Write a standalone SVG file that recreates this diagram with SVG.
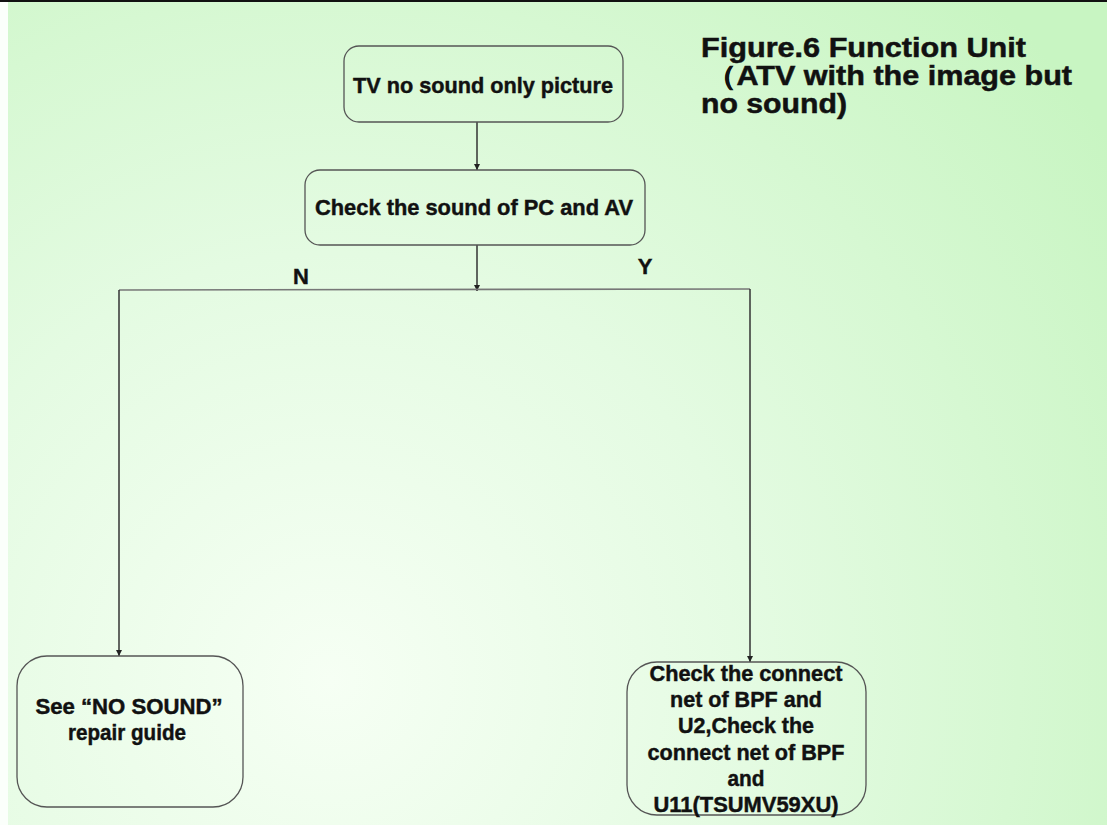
<svg xmlns="http://www.w3.org/2000/svg" width="1107" height="825" viewBox="0 0 1107 825">
<defs>
<radialGradient id="bg" cx="330" cy="680" r="950" gradientUnits="userSpaceOnUse">
<stop offset="0" stop-color="#f6fff4"/>
<stop offset="0.45" stop-color="#e4fbe2"/>
<stop offset="1" stop-color="#c8f5c2"/>
</radialGradient>
<marker id="arr" viewBox="0 0 10 10" refX="10" refY="5" markerWidth="6" markerHeight="6" orient="auto" markerUnits="userSpaceOnUse">
<path d="M0,0 L10,5 L0,10 z" fill="#222"/>
</marker>
<style>
.box{fill:none;stroke:#555;stroke-width:1.3}
.t{font-family:"Liberation Sans",Arial,sans-serif;font-weight:bold;font-size:22.5px;fill:#111;stroke:#111;stroke-width:0.45;text-anchor:middle}
.title{font-family:"Liberation Sans",Arial,sans-serif;font-weight:bold;font-size:27px;fill:#111;stroke:#111;stroke-width:0.5}
.lbl{font-family:"Liberation Sans",Arial,sans-serif;font-weight:bold;font-size:22px;fill:#111;stroke:#111;stroke-width:0.4;text-anchor:middle}
.c{fill:none;stroke:#333;stroke-width:1.5}
.h{fill:none;stroke:#777;stroke-width:1.6}
</style>
</defs>
<rect x="0" y="0" width="1107" height="825" fill="url(#bg)"/>
<rect x="0" y="0" width="8" height="825" fill="#fbfffb"/>
<rect x="0" y="0" width="1107" height="2" fill="#111"/>

<g id="title">
<text class="title" x="701" y="57" textLength="325" lengthAdjust="spacingAndGlyphs">Figure.6 Function Unit</text>
<text class="title" x="706" y="85" textLength="366" lengthAdjust="spacingAndGlyphs">（ATV with the image but</text>
<text class="title" x="701" y="113" textLength="146" lengthAdjust="spacingAndGlyphs">no sound)</text>
</g>

<g id="connectors">
<line class="c" x1="477" y1="122" x2="477" y2="170" marker-end="url(#arr)"/>
<line class="c" x1="477" y1="245" x2="477" y2="291" marker-end="url(#arr)"/>
<polyline class="h" points="119,290 750,289"/>
<line class="c" x1="119" y1="290" x2="119" y2="656" marker-end="url(#arr)"/>
<line class="c" x1="750" y1="289" x2="750" y2="662" marker-end="url(#arr)"/>
<text class="lbl" x="301" y="284">N</text>
<text class="lbl" x="645" y="274">Y</text>
</g>

<g id="n1">
<rect class="box" x="344" y="46" width="279" height="76" rx="15"/>
<text class="t" x="483" y="93" textLength="260" lengthAdjust="spacingAndGlyphs">TV no sound only picture</text>
</g>

<g id="n2">
<rect class="box" x="305" y="170" width="340" height="75" rx="15"/>
<text class="t" x="474" y="215" textLength="318" lengthAdjust="spacingAndGlyphs">Check the sound of PC and AV</text>
</g>

<g id="n3">
<rect class="box" x="17" y="656" width="226" height="151" rx="30"/>
<text class="t" x="129" y="714" textLength="187" lengthAdjust="spacingAndGlyphs">See “NO SOUND”</text>
<text class="t" x="127" y="740" textLength="118" lengthAdjust="spacingAndGlyphs">repair guide</text>
</g>

<g id="n4">
<rect class="box" x="627" y="662" width="239" height="153" rx="30"/>
<text class="t" x="746" y="681" textLength="193" lengthAdjust="spacingAndGlyphs">Check the connect</text>
<text class="t" x="746" y="707" textLength="152" lengthAdjust="spacingAndGlyphs">net of BPF and</text>
<text class="t" x="746" y="733" textLength="136" lengthAdjust="spacingAndGlyphs">U2,Check the</text>
<text class="t" x="746" y="760" textLength="197" lengthAdjust="spacingAndGlyphs">connect net of BPF</text>
<text class="t" x="746" y="786" textLength="37" lengthAdjust="spacingAndGlyphs">and</text>
<text class="t" x="746" y="812" textLength="185" lengthAdjust="spacingAndGlyphs">U11(TSUMV59XU)</text>
</g>
</svg>
